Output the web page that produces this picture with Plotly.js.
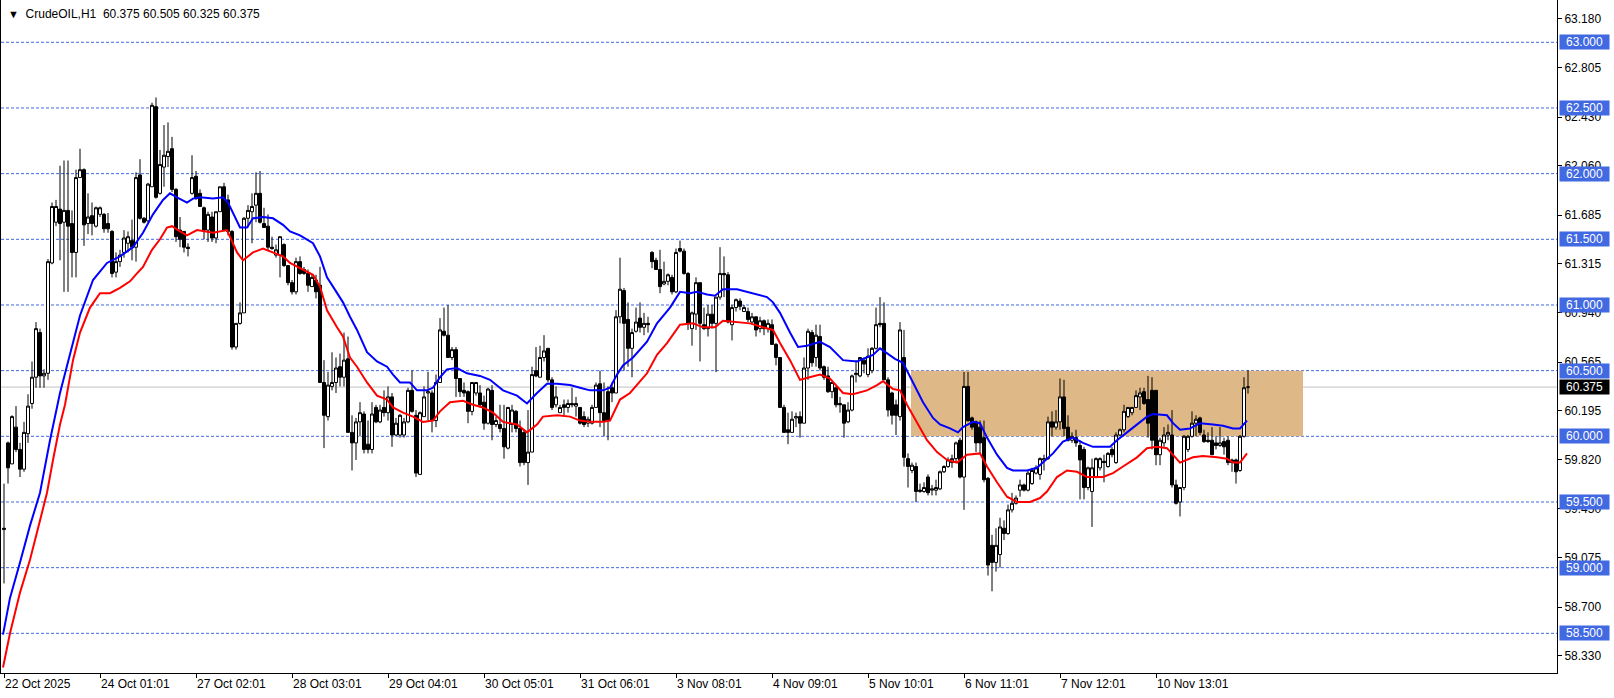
<!DOCTYPE html>
<html>
<head>
<meta charset="utf-8">
<script src="https://cdn.plot.ly/plotly-3.0.1.min.js"></script>
<style>html,body{margin:0;padding:0;background:#fff;}#chart{width:1614px;height:698px;}</style>
</head>
<body>
<div id="chart"></div>
<script>
// ---- data (CrudeOIL, H1) ----
const openP = [59.29,59.95,59.79,60.07,59.90,59.75,60.02,60.25,60.45,60.79,
60.46,60.48,61.32,61.63,61.73,61.63,61.72,61.62,61.40,61.97,
62.03,61.62,61.68,61.60,61.69,61.69,61.62,61.56,61.25,61.33,
61.40,61.47,61.49,61.44,61.99,61.66,61.64,61.90,62.51,61.85,
62.05,62.13,62.19,61.88,61.57,61.56,61.44,61.85,61.98,61.85,
61.74,61.57,61.67,61.51,61.71,61.90,61.80,61.56,60.68,60.86,
60.94,61.66,61.71,61.76,61.85,61.62,61.60,61.44,61.38,61.38,
61.46,61.30,61.17,61.10,61.33,61.27,61.24,61.14,61.19,61.15,
60.41,60.15,60.38,60.41,60.53,60.45,60.59,60.03,59.95,60.11,
60.17,59.94,59.90,60.22,60.11,60.22,60.18,60.30,60.01,60.01,
60.01,60.11,60.35,60.16,59.71,60.15,60.33,60.33,60.12,60.41,
60.80,60.77,60.60,60.66,60.44,60.35,60.34,60.19,60.33,60.33,
60.26,60.10,60.35,60.09,60.09,60.06,59.91,60.09,60.19,60.06,
60.03,59.80,59.88,60.50,60.45,60.60,60.67,60.43,60.24,60.18,
60.24,60.22,60.25,60.23,60.22,60.15,60.10,60.10,60.22,60.40,
60.18,60.34,60.37,60.33,60.91,61.11,60.89,60.67,60.80,60.90,
60.83,60.86,61.40,61.34,61.27,61.16,61.18,61.21,61.10,61.43,
61.41,61.24,60.82,60.93,61.17,60.85,60.82,60.93,60.86,61.06,
61.24,61.23,60.85,60.98,61.03,60.95,60.95,60.87,60.91,60.82,
60.88,60.82,60.85,60.70,60.60,60.22,60.05,60.03,60.14,60.15,
60.10,60.52,60.79,60.60,60.76,60.53,60.46,60.34,60.37,60.25,
60.24,60.11,60.20,60.47,60.46,60.58,60.47,60.50,60.67,60.86,
60.86,60.43,60.33,60.24,60.15,60.60,59.83,59.74,59.77,59.58,
59.58,59.69,59.59,59.59,59.60,59.73,59.77,59.80,59.83,59.97,
59.69,60.38,60.14,60.11,60.07,59.99,59.68,59.17,59.04,59.10,
59.30,59.26,59.44,59.49,59.59,59.63,59.59,59.64,59.72,59.71,
59.82,59.83,60.11,60.07,60.11,60.30,60.07,59.97,59.99,59.93,
59.90,59.61,59.58,59.69,59.76,59.81,59.77,59.90,59.80,60.01,
60.05,60.15,60.18,60.22,60.30,60.34,60.28,60.35,60.35,59.86,
59.95,60.01,60.01,59.63,59.50,59.61,59.90,60.00,60.10,60.14,
60.01,59.97,59.97,59.95,59.93,59.96,59.97,59.82,59.82,59.74,
60.00,60.375];

const highP = [59.64,59.96,60.16,60.23,59.95,60.11,60.32,60.57,60.87,60.82,
60.51,61.35,61.78,61.80,62.06,62.10,62.10,61.72,62.03,62.19,
62.04,61.85,61.78,61.75,61.75,61.70,61.70,61.57,61.40,61.42,
61.57,61.56,61.65,62.01,62.11,61.67,61.93,62.54,62.58,62.18,
62.37,62.39,62.28,61.89,61.67,61.56,61.47,62.14,62.02,61.88,
61.75,61.71,61.71,61.71,61.90,61.93,61.84,61.57,60.86,61.02,
61.67,61.76,61.85,62.01,62.02,61.74,61.69,61.52,61.46,61.52,
61.47,61.30,61.19,61.36,61.37,61.29,61.27,61.23,61.23,61.29,
60.58,60.49,60.64,60.60,60.63,60.79,60.76,60.16,60.14,60.26,
60.19,60.12,60.26,60.24,60.24,60.35,60.38,60.33,60.14,60.17,
60.14,60.37,60.50,60.20,60.19,60.38,60.49,60.35,60.47,60.90,
60.98,61.00,60.68,60.68,60.44,60.41,60.35,60.41,60.41,60.39,
60.31,60.37,60.39,60.15,60.24,60.24,60.22,60.24,60.20,60.12,
60.05,60.20,60.53,60.68,60.69,60.77,60.67,60.45,60.38,60.24,
60.28,60.28,60.37,60.30,60.22,60.19,60.15,60.24,60.41,60.50,
60.41,60.38,60.41,60.96,61.36,61.13,61.02,60.82,60.98,61.02,
60.94,60.91,61.41,61.36,61.42,61.33,61.24,61.23,61.43,61.49,
61.43,61.25,60.95,61.21,61.17,60.98,61.00,61.00,61.06,61.44,
61.37,61.25,61.00,61.05,61.05,61.00,60.98,60.94,60.91,60.91,
60.89,60.89,60.89,60.71,60.60,60.24,60.18,60.19,60.18,60.19,
60.60,60.82,60.81,60.85,60.85,60.54,60.53,60.41,60.38,60.30,
60.24,60.26,60.47,60.58,60.60,60.60,60.67,60.68,60.98,61.06,
61.02,60.45,60.34,60.28,60.87,60.81,59.87,59.80,59.80,59.64,
59.65,59.71,59.63,59.67,59.74,59.78,59.84,59.86,59.96,59.99,
60.49,60.49,60.15,60.12,60.12,60.12,59.69,59.25,59.30,59.38,
59.36,59.48,59.57,59.55,59.67,59.64,59.74,59.76,59.78,59.84,
59.86,60.15,60.19,60.20,60.44,60.43,60.16,60.03,60.05,59.97,
59.92,59.77,59.83,59.84,59.84,59.86,59.88,59.92,60.03,60.06,
60.24,60.22,60.22,60.35,60.37,60.37,60.46,60.45,60.35,59.99,
60.07,60.09,60.20,59.67,59.61,60.01,60.01,60.19,60.16,60.15,
60.05,60.03,60.07,60.00,60.07,59.99,60.00,59.83,59.83,60.01,
60.45,60.505];

const lowP = [58.88,59.64,59.79,59.88,59.69,59.73,59.95,60.21,60.37,60.37,
60.37,60.43,61.31,61.60,61.34,61.10,61.10,61.21,61.21,61.97,
61.45,61.54,61.53,61.59,61.67,61.55,61.55,61.21,61.21,61.29,
61.36,61.40,61.34,61.33,61.65,61.62,61.63,61.90,61.81,61.84,
61.90,62.05,61.86,61.48,61.44,61.40,61.37,61.84,61.80,61.75,
61.50,61.48,61.48,61.47,61.71,61.56,61.53,60.66,60.66,60.85,
60.94,61.59,61.47,61.63,61.62,61.59,61.42,61.42,61.36,61.21,
61.29,61.15,61.08,61.08,61.23,61.23,61.10,61.14,61.05,60.41,
59.91,60.12,60.35,60.33,60.38,60.38,60.03,59.74,59.82,60.00,
59.87,59.87,59.87,60.10,60.10,60.15,60.12,59.92,60.00,59.99,
59.99,60.10,60.18,59.69,59.71,60.15,60.12,60.03,60.07,60.41,
60.76,60.60,60.58,60.30,60.30,60.30,60.10,60.16,60.31,60.22,
60.05,60.09,59.97,60.07,60.03,59.83,59.90,60.03,60.03,59.77,
59.78,59.63,59.88,60.45,60.45,60.57,60.41,60.20,60.22,60.18,
60.16,60.18,60.22,60.15,60.09,60.07,60.07,60.09,60.22,60.07,
60.00,59.97,60.26,60.33,60.86,60.50,60.53,60.45,60.79,60.79,
60.77,60.79,61.28,61.27,61.09,61.15,61.15,61.08,61.09,61.40,
61.23,60.81,60.69,60.81,60.57,60.81,60.76,60.82,60.49,61.04,
61.06,60.86,60.73,60.95,60.96,60.95,60.87,60.86,60.76,60.79,
60.77,60.79,60.70,60.54,60.22,60.03,59.94,60.03,60.07,59.99,
60.10,60.43,60.53,60.53,60.50,60.43,60.33,60.29,60.22,60.18,
59.99,60.10,60.19,60.41,60.45,60.48,60.45,60.48,60.66,60.83,
60.43,60.15,60.09,60.01,60.12,59.77,59.61,59.72,59.50,59.57,
59.57,59.55,59.55,59.55,59.59,59.72,59.76,59.76,59.80,59.68,
59.44,60.11,60.05,59.88,59.87,59.65,58.94,58.82,58.97,59.00,
59.21,59.25,59.42,59.48,59.54,59.58,59.58,59.63,59.71,59.67,
59.74,59.82,60.00,60.05,60.05,60.00,59.96,59.95,59.92,59.52,
59.52,59.59,59.31,59.68,59.74,59.65,59.76,59.84,59.79,60.00,
60.03,60.14,60.16,60.22,60.20,60.24,59.99,59.90,59.78,59.78,
59.92,59.97,59.61,59.48,59.39,59.59,59.88,59.99,60.00,60.01,
59.95,59.95,59.86,59.90,59.92,59.86,59.78,59.73,59.64,59.73,
59.99,60.325];

const closeP = [59.30,59.76,60.15,59.90,59.75,60.03,60.23,60.45,60.82,60.46,
60.48,61.33,61.75,61.75,61.62,61.72,61.60,61.40,61.97,62.03,
61.61,61.67,61.62,61.74,61.74,61.58,61.58,61.24,61.33,61.38,
61.51,61.52,61.44,61.97,61.66,61.63,61.92,62.52,61.82,62.07,
62.14,62.17,61.88,61.52,61.50,61.44,61.43,61.97,61.81,61.75,
61.57,61.69,61.51,61.71,61.90,61.57,61.56,60.68,60.86,60.94,
61.66,61.72,61.75,61.85,61.63,61.59,61.44,61.43,61.42,61.52,
61.30,61.17,61.10,61.33,61.24,61.24,61.15,61.21,61.10,60.41,
60.16,60.39,60.41,60.52,60.45,60.58,60.03,59.95,60.11,60.18,
59.90,59.90,60.17,60.11,60.20,60.18,60.30,60.01,60.10,60.16,
60.11,60.35,60.19,59.72,60.18,60.30,60.34,60.12,60.41,60.81,
60.77,60.60,60.66,60.44,60.34,60.33,60.19,60.41,60.41,60.24,
60.10,60.36,60.09,60.12,60.06,59.92,60.22,60.20,60.06,59.80,
59.80,59.88,60.47,60.46,60.60,60.65,60.43,60.22,60.30,60.22,
60.22,60.25,60.24,60.25,60.10,60.09,60.13,60.22,60.39,60.18,
60.12,60.12,60.33,60.91,61.12,60.86,60.67,60.79,60.87,60.83,
60.86,60.85,61.33,61.27,61.14,61.18,61.23,61.10,61.40,61.41,
61.24,60.86,60.94,61.17,60.86,60.82,60.93,60.86,61.06,61.24,
61.23,60.87,60.98,61.04,60.99,60.98,60.89,60.91,60.81,60.88,
60.82,60.86,60.70,60.60,60.22,60.03,60.03,60.13,60.15,60.10,
60.52,60.80,60.56,60.77,60.52,60.45,60.34,60.41,60.24,60.24,
60.10,60.20,60.46,60.48,60.60,60.55,60.61,60.67,60.85,60.85,
60.43,60.20,60.16,60.16,60.81,59.84,59.77,59.78,59.58,59.59,
59.61,59.57,59.60,59.61,59.73,59.77,59.82,59.83,59.95,59.69,
60.38,60.12,60.07,59.95,59.95,59.67,59.02,59.04,59.17,59.31,
59.26,59.44,59.49,59.53,59.63,59.59,59.72,59.74,59.76,59.83,
59.83,60.11,60.07,60.11,60.30,60.06,59.97,60.00,59.95,59.82,
59.61,59.76,59.76,59.83,59.83,59.80,59.87,59.86,60.01,60.05,
60.19,60.22,60.22,60.31,60.33,60.25,60.10,59.97,59.86,59.97,
60.01,60.03,59.63,59.49,59.61,60.00,60.00,60.10,60.13,60.03,
59.96,59.96,59.86,59.93,59.95,59.92,59.80,59.80,59.73,60.00,
60.37,60.375];

// moving-average lines (bar position, price)
const blueBar = [-0.25,1.5,4,6.5,9,11.5,14,16.5,19,22.25,25.75,29,32.25,34.75,37.25,39.75,41.5,43.25,45.75,47.25,49,52.25,54.75,56,57.25,59,60.75,62.25,64.75,67.25,69.75,71.5,74,77.25,79,80.75,82.25,84.75,86.5,88.25,90.75,93.25,95.75,97.25,99,101.5,103.25,105.75,107.25,109,110.75,113.25,115.75,119,121.5,124.75,128.25,130.75,133.25,135.75,138.25,141.5,144,146.5,149.75,151.5,153.25,154.75,157.25,160.75,163.25,166.5,169,171.5,173.25,175.75,177.75,179.75,183.25,185.75,188.25,190.75,192.25,194,196.5,198.5,200.75,204,206.5,209.75,213.25,215.75,217.25,219,220.75,222.75,224.75,227.25,229.75,232.25,234,236.5,238.5,239.75,242.25,244,245.75,248.25,250.75,252.25,255.75,258.25,259.75,262.25,264.75,267.25,269.75,272.25,276.5,278.25,280.75,283.25,285.75,287.25,290.75,292.25,294,296.5,299,302.25,304.75,307.25,309,310.75];
const blueVal = [58.49,58.77,59.04,59.32,59.57,59.97,60.33,60.62,60.92,61.19,
61.32,61.37,61.44,61.55,61.69,61.80,61.85,61.82,61.78,61.81,
61.82,61.81,61.82,61.78,61.70,61.59,61.59,61.66,61.67,61.66,
61.61,61.56,61.53,61.47,61.37,61.21,61.14,61.02,60.91,60.81,
60.64,60.57,60.53,60.47,60.41,60.41,60.35,60.35,60.37,60.45,
60.51,60.52,60.48,60.46,60.43,60.35,60.31,60.25,60.33,60.40,
60.40,60.39,60.37,60.35,60.35,60.37,60.47,60.54,60.60,60.72,
60.86,60.98,61.10,61.09,61.10,61.08,61.07,61.12,61.12,61.10,
61.08,61.06,61.02,60.94,60.79,60.68,60.69,60.72,60.68,60.58,
60.57,60.60,60.62,60.67,60.63,60.59,60.56,60.41,60.26,60.14,
60.09,60.06,60.03,60.07,60.11,60.10,59.99,59.86,59.76,59.74,
59.74,59.76,59.80,59.87,59.96,59.99,59.95,59.92,59.92,59.97,
60.03,60.09,60.15,60.17,60.16,60.10,60.05,60.06,60.10,60.09,
60.08,60.06,60.06,60.12];
const redBar = [-0.25,1.5,4,6.5,9,10.75,12.25,14,15.25,17.25,19,21.5,24,26.5,29,31.5,33.25,34.75,37,39,40.75,42,44,45.75,48.25,50.75,52.25,55.75,56.5,58.25,59.75,62.25,64.75,67.25,69.75,71.5,74,77.25,79,80.75,83.25,84.75,86.5,88.25,90.75,93.25,95.75,97.25,99.75,102.25,104.75,107.25,109,111.5,114.75,117.25,119.75,122.25,124.75,128.25,130.75,133.25,134.75,138.25,141.5,144,146.5,149.75,151.5,154,156.5,160.75,163.25,165.75,169,172.25,174.75,177.75,179.75,183.25,186.5,189.75,192.25,194,196.5,199,201.5,204,206.5,209.75,212.25,215.75,218.25,219.75,222.25,224,225.75,228.25,230.75,233.25,235.75,238.25,240.75,244,245.75,248.25,250.75,253.25,256.5,259,260.75,263.25,265.75,268.25,270.75,274.75,277.25,279.75,283.25,285.75,288.25,290.75,292.25,294,297.25,299.75,303.25,305.75,307.25,309,310.75];
const redVal = [58.24,58.50,58.81,59.06,59.36,59.57,59.82,60.09,60.24,60.58,
60.79,60.98,61.09,61.09,61.13,61.18,61.24,61.29,61.42,61.50,
61.59,61.60,61.56,61.53,61.57,61.56,61.55,61.57,61.52,61.40,
61.34,61.40,61.43,61.40,61.37,61.32,61.28,61.23,61.14,60.96,
60.83,60.76,60.60,60.53,60.41,60.31,60.28,60.22,60.18,60.15,
60.11,60.12,60.19,60.26,60.27,60.24,60.22,60.18,60.11,60.09,
60.03,60.09,60.15,60.16,60.15,60.12,60.11,60.11,60.12,60.28,
60.33,60.48,60.62,60.71,60.85,60.86,60.83,60.83,60.88,60.87,
60.86,60.83,60.81,60.71,60.58,60.43,60.45,60.47,60.44,60.33,
60.32,60.35,60.39,60.42,60.36,60.35,60.24,60.10,59.97,59.88,
59.82,59.80,59.86,59.87,59.77,59.65,59.54,59.50,59.50,59.53,
59.58,59.69,59.74,59.73,59.69,59.69,59.72,59.77,59.84,59.91,
59.92,59.91,59.86,59.80,59.84,59.85,59.84,59.83,59.80,59.80,
59.87];

// axis ticks / levels
const timeTickBars = [0,24,48,72,96,120,144,168,192,216,240,264,288];
const timeTickText = ['22 Oct 2025','24 Oct 01:01','27 Oct 02:01','28 Oct 03:01','29 Oct 04:01','30 Oct 05:01','31 Oct 06:01','3 Nov 08:01','4 Nov 09:01','5 Nov 10:01','6 Nov 11:01','7 Nov 12:01','10 Nov 13:01'];
const priceTicks = [63.18,62.805,62.43,62.06,61.685,61.315,60.94,60.565,60.195,59.82,59.45,59.075,58.70,58.33];
const levelPrices = [63.0,62.5,62.0,61.5,61.0,60.5,60.0,59.5,59.0,58.5];
const lastPrice = 60.375;
const zoneFromBar = 226.75, zoneToBar = 324.75, zoneLow = 60.0, zoneHigh = 60.5;

// ---- drawing ----
const FONT = 'Liberation Sans, Arial, sans-serif';
const barIdx = openP.map((_, i) => i);

const traces = [
  {
    type: 'candlestick', x: barIdx, open: openP, high: highP, low: lowP, close: closeP,
    increasing: {line: {color: '#000000', width: 1}, fillcolor: '#ffffff'},
    decreasing: {line: {color: '#000000', width: 1}, fillcolor: '#000000'},
    whiskerwidth: 0, hoverinfo: 'skip', showlegend: false
  },
  {type: 'scatter', mode: 'lines', x: blueBar, y: blueVal, line: {color: '#0000ff', width: 2}, hoverinfo: 'skip', showlegend: false},
  {type: 'scatter', mode: 'lines', x: redBar, y: redVal, line: {color: '#ff0000', width: 2}, hoverinfo: 'skip', showlegend: false}
];

const shapes = [
  {type: 'rect', xref: 'x', yref: 'y', x0: zoneFromBar, x1: zoneToBar, y0: zoneLow, y1: zoneHigh,
   fillcolor: '#deb887', line: {width: 0}, layer: 'below'}
];
levelPrices.forEach(p => shapes.push({
  type: 'line', xref: 'paper', yref: 'y', x0: 0, x1: 1, y0: p, y1: p,
  line: {color: '#4169e1', width: 1, dash: '3px,2px'}, layer: 'below'
}));
shapes.push({type: 'line', xref: 'paper', yref: 'y', x0: 0, x1: 1, y0: lastPrice, y1: lastPrice,
  line: {color: '#c0c0c0', width: 1}, layer: 'below'});

const annotations = [];
levelPrices.forEach(p => annotations.push({
  xref: 'paper', x: 1, xanchor: 'left', xshift: 2, yref: 'y', y: p, yanchor: 'middle',
  text: p.toFixed(3), showarrow: false, bgcolor: '#4169e1', borderpad: 1, width: 47, height: 12,
  align: 'center', font: {family: FONT, size: 12, color: '#ffffff'}
}));
annotations.push({
  xref: 'paper', x: 1, xanchor: 'left', xshift: 2, yref: 'y', y: lastPrice, yanchor: 'middle',
  text: lastPrice.toFixed(3), showarrow: false, bgcolor: '#000000', borderpad: 1, width: 47, height: 12,
  align: 'center', font: {family: FONT, size: 12, color: '#ffffff'}
});
annotations.push({
  xref: 'paper', x: 0, xanchor: 'left', xshift: 5, yref: 'paper', y: 1, yanchor: 'top', yshift: -5,
  text: '<span style="font-size:11px">▼</span>\u00a0\u00a0CrudeOIL,H1\u00a0\u00a0' +
        [openP[openP.length-1], highP[highP.length-1], lowP[lowP.length-1], closeP[closeP.length-1]].map(v => v.toFixed(3)).join(' '),
  showarrow: false, font: {family: FONT, size: 12, color: '#000000'}
});

const layout = {
  width: 1614, height: 698,
  margin: {l: 1, r: 57, t: 0, b: 25, pad: 0},
  paper_bgcolor: '#ffffff', plot_bgcolor: '#ffffff',
  showlegend: false,
  boxgap: 0.25, boxgroupgap: 0,
  xaxis: {
    range: [-0.75, 388.25], fixedrange: true, rangeslider: {visible: false},
    showgrid: false, zeroline: false, showline: true, linecolor: '#000000', linewidth: 1, mirror: true,
    ticks: 'outside', ticklen: 4, tickcolor: '#000000', tickwidth: 1,
    tickmode: 'array', tickvals: timeTickBars, ticktext: timeTickText,
    ticklabelposition: 'outside right',
    tickfont: {family: FONT, size: 12, color: '#000000'}
  },
  yaxis: {
    side: 'right', range: [58.198, 63.322], fixedrange: true,
    showgrid: false, zeroline: false, showline: true, linecolor: '#000000', linewidth: 1, mirror: true,
    ticks: 'outside', ticklen: 4, tickcolor: '#000000', tickwidth: 1,
    tickmode: 'array', tickvals: priceTicks, ticktext: priceTicks.map(v => v.toFixed(3)),
    tickfont: {family: FONT, size: 12, color: '#000000'}
  },
  shapes: shapes,
  annotations: annotations
};

Plotly.newPlot('chart', traces, layout, {staticPlot: true, displayModeBar: false});
</script>
</body>
</html>
